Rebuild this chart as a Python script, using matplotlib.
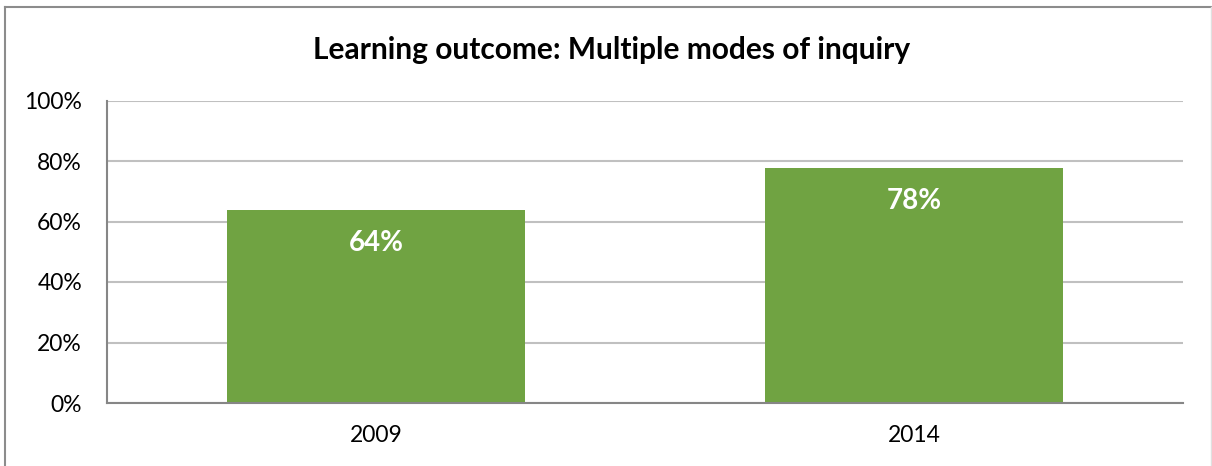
import matplotlib
matplotlib.use("Agg")
import matplotlib.pyplot as plt
from matplotlib.lines import Line2D
from matplotlib.ticker import PercentFormatter

years = ["2009", "2014"]
values = [0.638, 0.777]
labels = ["64%", "78%"]
yticks = [0, 0.2, 0.4, 0.6, 0.8, 1.0]

plt.rcParams['font.family'] = ['Lato', 'DejaVu Sans']

W, H = 1212, 466
fig = plt.figure(figsize=(W / 100, H / 100), dpi=100)
ax = fig.add_axes([107 / W, 1 - 403 / H, (1183 - 107) / W, (403 - 100.5) / H])

bars = ax.bar(range(len(years)), values, width=0.554, color="#70a342", zorder=2)
for b, lab in zip(bars, labels):
    ax.annotate(lab, (b.get_x() + b.get_width() / 2, b.get_height()),
                xytext=(0, -33), textcoords="offset pixels",
                ha="center", va="center", color="white",
                fontsize=20, fontweight="bold")

ax.set_xlim(-0.5, len(years) - 0.5)
ax.set_ylim(0, 1)
ax.set_yticks(yticks)
ax.yaxis.set_major_formatter(PercentFormatter(1.0, decimals=0))
ax.set_xticks(range(len(years)))
ax.set_xticklabels(years)
ax.tick_params(axis="both", length=0, labelsize=16.5, colors="black")
ax.tick_params(axis="y", pad=18)
ax.tick_params(axis="x", pad=16)
ax.grid(axis="y", color="#c0c0c0", linewidth=1.5, zorder=0)
ax.set_axisbelow(True)
for s in ["top", "right"]:
    ax.spines[s].set_visible(False)
for s in ["left", "bottom"]:
    ax.spines[s].set_color("#868686")
    ax.spines[s].set_linewidth(1.5)

fig.text(612 / W, 1 - 50 / H, "Learning outcome: Multiple modes of inquiry",
         ha="center", va="center", fontsize=21.5, fontweight="bold")

# chart border
fig.add_artist(Line2D([5 / W, 5 / W], [0, 1 - 7 / H], transform=fig.transFigure, color="#8c8c8c", lw=1.5))
fig.add_artist(Line2D([5 / W, 1211 / W], [1 - 7 / H, 1 - 7 / H], transform=fig.transFigure, color="#8c8c8c", lw=1.5))
fig.add_artist(Line2D([1211 / W, 1211 / W], [0, 1 - 7 / H], transform=fig.transFigure, color="#e0e0e0", lw=1))

fig.savefig("out.png", dpi=100, facecolor="white")
